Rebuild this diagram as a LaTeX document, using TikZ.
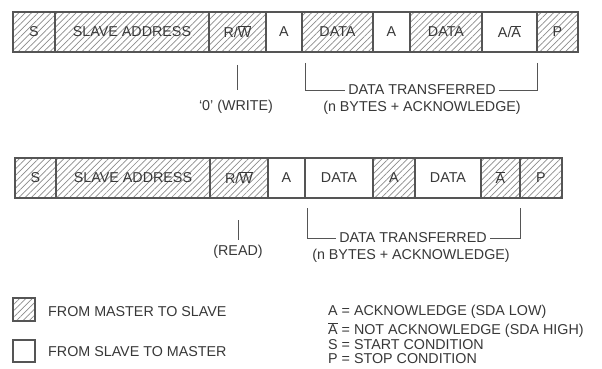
\documentclass[tikz,border=0pt]{standalone}
\usepackage{fontspec}
\setmainfont{Liberation Sans}
\usetikzlibrary{patterns.meta}
\definecolor{ink}{HTML}{383838}
\definecolor{edge}{HTML}{555555}
\definecolor{hatch}{HTML}{8C8C8C}
\newcommand\ovl[1]{\ensuremath{\overline{\mbox{#1}}}}
\begin{document}
\begin{tikzpicture}[x=1pt,y=-1pt,
 every node/.style={font=\fontsize{14.3}{15}\selectfont, text=ink},
 cell/.style={draw=edge, line width=1.2pt, minimum height=40pt, inner sep=0pt, outer sep=0pt, anchor=west},
 hatched/.style={cell, pattern={Lines[angle=45,distance=4.5pt,line width=0.7pt]}, pattern color=hatch},
 plain/.style={cell, fill=white},
 lbl/.style={inner sep=0pt},
 brk/.style={draw=edge, line width=1pt}
]
\fill[white] (0,0) rectangle (602,369);
\useasboundingbox (0,0) rectangle (602,369);

% top row: write
\node[hatched, minimum width=42pt] (t1) at (13,32) {S};
\node[hatched, minimum width=154pt] (t2) at (55,32) {SLAVE ADDRESS};
\node[hatched, minimum width=57pt] (t3) at (209,32) {R/\ovl{W}};
\node[plain, minimum width=36pt] (t4) at (266,32) {A};
\node[hatched, minimum width=71pt] (t5) at (302,32) {DATA};
\node[plain, minimum width=37pt] (t6) at (373,32) {A};
\node[hatched, minimum width=72pt] (t7) at (410,32) {DATA};
\node[plain, minimum width=55pt] (t8) at (482,32) {A/\ovl{A}};
\node[hatched, minimum width=41pt] (t9) at (537,32) {P};

\coordinate (tw1) at (237,65);
\coordinate (tw2) at (237,90);
\draw[brk] (tw1) -- (tw2);
\node[lbl] (tw) at (236,107) {`0' (WRITE)};

\coordinate (tb1) at (305,63);
\coordinate (tb2) at (537,63);
\node[lbl, fill=white, inner xsep=3pt] (tdt) at (422,90) {DATA TRANSFERRED};
\draw[brk] (tb1) |- (tdt.west);
\draw[brk] (tb2) |- (tdt.east);
\node[lbl] (tnb) at (422,108) {(n BYTES + ACKNOWLEDGE)};

% bottom row: read
\node[hatched, minimum width=41pt] (b1) at (15,178) {S};
\node[hatched, minimum width=154pt] (b2) at (56,178) {SLAVE ADDRESS};
\node[hatched, minimum width=58pt] (b3) at (210,178) {R/\ovl{W}};
\node[plain, minimum width=37pt] (b4) at (268,178) {A};
\node[plain, minimum width=68pt] (b5) at (305,178) {DATA};
\node[hatched, minimum width=42pt] (b6) at (373,178) {A};
\node[plain, minimum width=66pt] (b7) at (415,178) {DATA};
\node[hatched, minimum width=39pt] (b8) at (481,178) {\ovl{A}};
\node[hatched, minimum width=42pt] (b9) at (520,178) {P};

\coordinate (br1) at (238,220);
\coordinate (br2) at (238,240);
\draw[brk] (br1) -- (br2);
\node[lbl] (br) at (238,252) {(READ)};

\coordinate (bb1) at (307,208);
\coordinate (bb2) at (520,208);
\node[lbl, fill=white, inner xsep=3pt] (bdt) at (413,238) {DATA TRANSFERRED};
\draw[brk] (bb1) |- (bdt.west);
\draw[brk] (bb2) |- (bdt.east);
\node[lbl] (bnb) at (411,256) {(n BYTES + ACKNOWLEDGE)};

% legend
\node[hatched, anchor=north west, minimum width=22pt, minimum height=23pt] (lg1) at (13,298) {};
\node[lbl, anchor=west] (lt1) at (48,312) {FROM MASTER TO SLAVE};
\node[plain, anchor=north west, minimum width=22pt, minimum height=22pt] (lg2) at (13,340) {};
\node[lbl, anchor=west] (lt2) at (48,352) {FROM SLAVE TO MASTER};

\node[lbl, anchor=west] (k1) at (328,312) {A = ACKNOWLEDGE (SDA LOW)};
\node[lbl, anchor=west] (k2) at (328,330) {\ovl{A} = NOT ACKNOWLEDGE (SDA HIGH)};
\node[lbl, anchor=west] (k3) at (328,345) {S = START CONDITION};
\node[lbl, anchor=west] (k4) at (328,359) {P = STOP CONDITION};
\end{tikzpicture}
\end{document}
